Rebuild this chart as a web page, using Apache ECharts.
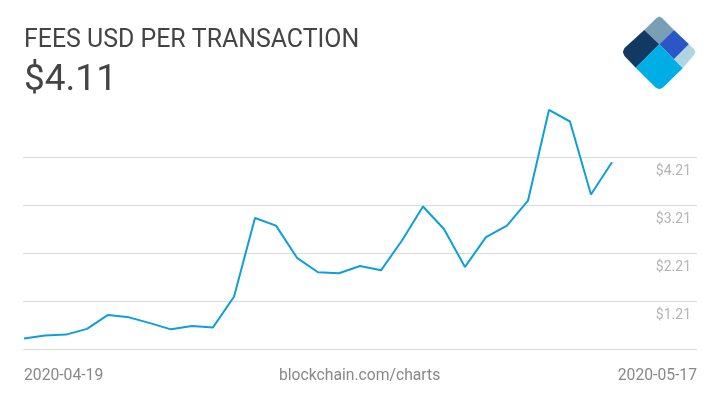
<!DOCTYPE html>
<html>
<head>
<meta charset="utf-8">
<style>
html, body { margin: 0; padding: 0; background: #fff; }
#chart { width: 720px; height: 405px; }
</style>
<script src="https://cdn.jsdelivr.net/npm/echarts@6/dist/echarts.min.js"></script>
</head>
<body>
<div id="chart"></div>
<script>
var titleText = 'FEES USD PER TRANSACTION';
var currentText = '$4.11';
var startLabel = '2020-04-19';
var middleLabel = 'blockchain.com/charts';
var endLabel = '2020-05-17';

// one value per day, 04-19 to 05-17
var fees = [0.44, 0.50, 0.52, 0.64, 0.93, 0.88, 0.76, 0.63, 0.70, 0.67,
	1.31, 2.95, 2.79, 2.12, 1.82, 1.80, 1.95, 1.86, 2.48, 3.19,
	2.72, 1.93, 2.55, 2.79, 3.31, 5.20, 4.96, 3.44, 4.11];
var yTicks = [0.21, 1.21, 2.21, 3.21, 4.21];
var yLabels = [1.21, 2.21, 3.21, 4.21];

var chart = echarts.init(document.getElementById('chart'));

// logo
var logo = [
	{ color: '#7a9fb5', p: [[644.3, 30], [656.5, 18], [659.3, 16.5], [662.1, 18], [674, 30], [659.3, 44.3]] },
	{ color: '#123962', p: [[644.3, 30], [659.3, 44.3], [635.7, 67.7], [624.5, 56], [622.8, 52], [624.5, 48]] },
	{ color: '#2a56c6', p: [[674, 30], [689, 44.3], [674, 59.3], [659.3, 44.3]] },
	{ color: '#b1d4e5', p: [[689, 44.3], [694, 49], [695.5, 52], [694, 55], [682.7, 68.3], [674, 59.3]] },
	{ color: '#00aee6', p: [[659.3, 44.3], [682.7, 68.3], [663, 87.5], [659.3, 89.3], [655.6, 87.5], [635.7, 67.7]] }
];

var option = {
	animation: false,
	backgroundColor: '#fff',
	textStyle: { fontFamily: 'Roboto' },
	title: [
		{ text: titleText, left: 19, top: 23, textStyle: { fontFamily: 'Roboto', fontSize: 24.9, fontWeight: 'normal', color: '#444' } },
		{ text: currentText, left: 19, top: 57, textStyle: { fontFamily: 'Roboto', fontSize: 37, fontWeight: 'normal', color: '#444' } },
		{ text: startLabel, left: 19, top: 363, textStyle: { fontFamily: 'Roboto', fontSize: 15.7, fontWeight: 'normal', color: '#888' } },
		{ text: middleLabel, left: 274, top: 363, textStyle: { fontFamily: 'Roboto', fontSize: 15.7, fontWeight: 'normal', color: '#888' } },
		{ text: endLabel, right: 18, top: 363, textStyle: { fontFamily: 'Roboto', fontSize: 15.7, fontWeight: 'normal', color: '#888' } }
	],
	grid: { left: 23, right: 23, top: 109.5, bottom: 55.5 },
	xAxis: {
		type: 'value',
		min: -0.048,
		max: 32.05,
		show: false
	},
	yAxis: {
		type: 'value',
		position: 'right',
		min: 0.21,
		max: 5.21,
		interval: 1,
		axisLine: { show: false },
		axisTick: { show: false, customValues: yTicks },
		axisLabel: {
			inside: true,
			customValues: yLabels,
			margin: 6,
			align: 'right',
			verticalAlign: 'top',
			padding: [7, 0, 0, 0],
			fontFamily: 'Roboto',
			fontSize: 14,
			color: '#b4b4b4',
			formatter: function(v) { return '$' + v.toFixed(2); }
		},
		splitLine: { show: true, lineStyle: { color: '#ddd', width: 1 } }
	},
	series: [{
		type: 'line',
		data: fees.map(function(v, i) { return [i, v]; }),
		symbol: 'none',
		lineStyle: { color: '#0e9fdb', width: 2 }
	}],
	graphic: logo.map(function(s) {
		return { type: 'polygon', shape: { points: s.p }, style: { fill: s.color } };
	})
};

chart.setOption(option);
</script>
</body>
</html>
